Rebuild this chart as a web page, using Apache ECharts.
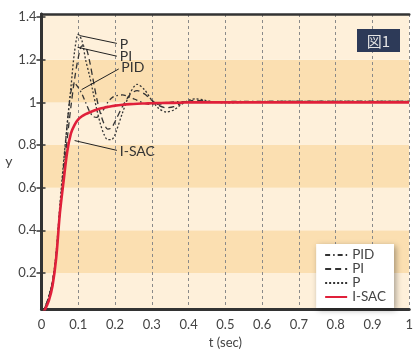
<!DOCTYPE html>
<html><head><meta charset="utf-8">
<script src="https://cdn.jsdelivr.net/npm/echarts@6/dist/echarts.min.js"></script>
<style>html,body{margin:0;padding:0;background:#fff}#c{width:416px;height:354px}</style>
</head><body><div id="c"></div>
<script>
const tSec = [0,0.01,0.02,0.03,0.04,0.05,0.06,0.07,0.08,0.09,0.1,0.11,0.12,0.13,0.14,0.15,0.16,0.17,0.18,0.19,0.2,0.22,0.24,0.26,0.28,0.3,0.32,0.34,0.36,0.38,0.4,0.42,0.44,0.46,0.5,0.55,0.6,0.7,0.8,0.9,1.0];
const yISAC = [0,0.03,0.07,0.14,0.27,0.48,0.63,0.77,0.855,0.895,0.92,0.935,0.945,0.953,0.96,0.966,0.971,0.975,0.979,0.982,0.985,0.989,0.992,0.994,0.995,0.996,0.997,0.998,0.998,0.999,1,1,1,1,1,1,1,1,1,1,1];
const yP    = [0,0.04,0.09,0.16,0.3,0.52,0.72,0.9,1.07,1.24,1.32,1.29,1.2,1.13,1.05,0.97,0.9,0.85,0.825,0.825,0.85,0.95,1.04,1.085,1.06,1.01,0.97,0.955,0.965,0.99,1.01,1.017,1.012,1.005,0.998,1.0,1.003,1.005,1.005,1.005,1.005];
const yPI   = [0,0.04,0.09,0.16,0.28,0.48,0.66,0.83,0.98,1.11,1.21,1.265,1.26,1.2,1.11,1.02,0.95,0.9,0.875,0.88,0.91,0.98,1.035,1.055,1.04,1.01,0.985,0.975,0.98,0.995,1.005,1.01,1.008,1.003,1.0,1.002,1.004,1.005,1.005,1.005,1.005];
const yPID  = [0,0.04,0.09,0.16,0.29,0.5,0.7,0.9,1.05,1.09,1.07,1.04,1.0,0.96,0.935,0.93,0.945,0.97,1.0,1.02,1.03,1.035,1.025,1.01,0.995,0.99,0.992,0.998,1.002,1.004,1.004,1.004,1.004,1.004,1.004,1.005,1.005,1.005,1.005,1.005,1.005];
const xTicks = [0,0.1,0.2,0.3,0.4,0.5,0.6,0.7,0.8,0.9,1];
const yTicks = [0.2,0.4,0.6,0.8,1,1.2,1.4];
const bandEdges = [0,0.2,0.4,0.6,0.8,1.0,1.2,1.6];
const notes = [
  {name:'P',     from:[0.103,1.314], to:[0.205,1.277]},
  {name:'PI',    from:[0.098,1.259], to:[0.205,1.217]},
  {name:'PID',   from:[0.109,1.06],  to:[0.21,1.157]},
  {name:'I-SAC', from:[0.09,0.821],  to:[0.205,0.775]}
];
const pairs = v => tSec.map((t,i)=>[t,v[i]]);
const light = '#FEF0DA', dark = '#FBDFB1';
const bands = [];
for (let i=0;i<bandEdges.length-1;i++){
  bands.push([{yAxis:bandEdges[i], itemStyle:{color: i%2? dark: light}},{yAxis:bandEdges[i+1]}]);
}
const font = 'Lato, "Open Sans", sans-serif';
const chart = echarts.init(document.getElementById('c'));
chart.setOption({
  animation:false,
  grid:{left:41.5,right:1.5,top:14,bottom:39},
  xAxis:[{type:'value',min:0,max:1,interval:0.1,z:2,
    name:'t (sec)',nameLocation:'middle',nameGap:25,
    nameTextStyle:{color:'#444',fontSize:13,fontFamily:font},
    axisLine:{show:true,lineStyle:{color:'#333',width:3}},
    axisTick:{show:false},
    axisLabel:{color:'#444',fontSize:13,fontFamily:font,margin:9,formatter:v=>String(+v.toFixed(1))},
    splitLine:{show:true,lineStyle:{color:'#8a8a8a',type:[3,3],width:1}}},
   {type:'value',min:0,max:1,position:'top',z:2,
    axisLine:{show:true,lineStyle:{color:'#333',width:2.5}},
    axisTick:{show:false},axisLabel:{show:false},splitLine:{show:false}}],
  yAxis:[{type:'value',min:0.03,max:1.415,z:2,
    name:'y',nameLocation:'middle',nameGap:27,nameRotate:0,
    nameTextStyle:{color:'#444',fontSize:14,fontFamily:font},
    axisLine:{show:true,lineStyle:{color:'#333',width:3}},
    axisTick:{show:true,inside:true,length:4,customValues:yTicks,lineStyle:{color:'#333',width:1.5}},
    axisLabel:{color:'#444',fontSize:13,fontFamily:font,margin:5,customValues:yTicks,formatter:v=>String(+v.toFixed(1))},
    splitLine:{show:false}},
   {type:'value',min:0.03,max:1.415,position:'right',z:2,
    axisLine:{show:true,lineStyle:{color:'#333',width:2.5}},
    axisTick:{show:true,inside:true,length:5,customValues:yTicks,lineStyle:{color:'#333',width:1.5}},
    axisLabel:{show:false},splitLine:{show:false}}],
  legend:{orient:'vertical',right:22,top:244,data:['PID','PI','P','I-SAC'],
    backgroundColor:'#fff',borderWidth:0,padding:[4,8,4,8],itemGap:0,itemWidth:22,itemHeight:12,
    itemStyle:{opacity:0},
    shadowBlur:6,shadowOffsetX:2,shadowOffsetY:2,shadowColor:'rgba(0,0,0,0.35)',
    textStyle:{color:'#444',fontSize:13.5,fontFamily:font,padding:[0,0,0,0]}},
  graphic:[{type:'group',left:357,top:29,z:100,children:[
     {type:'rect',z:100,shape:{x:0,y:0,width:43,height:23},style:{fill:'#2D3A58'}},
     {type:'text',z:101,x:21.5,y:12,style:{text:'図1',fill:'#e4e4e4',font:'15px "Noto Sans CJK JP", sans-serif',align:'center',verticalAlign:'middle'}}]}],
  series:[
    {type:'line',name:'bands',data:[],z:1,silent:true,
     markArea:{silent:true,data:bands}},
    {type:'line',name:'notes',data:[],z:4,silent:true,
     markLine:{silent:true,symbol:['none','none'],animation:false,
       lineStyle:{color:'#222',width:1,type:'solid'},
       label:{show:true,position:'end',distance:3,color:'#333',fontSize:14,fontFamily:font},
       data:notes.map(n=>[{coord:n.from},{coord:n.to,label:{formatter:n.name}}])}},
    {type:'line',name:'PID',data:pairs(yPID),symbol:'none',smooth:0.3,z:3,itemStyle:{color:'#333'},
     lineStyle:{color:'#333',width:1.3,type:[5,3,1.5,3]}},
    {type:'line',name:'PI',data:pairs(yPI),symbol:'none',smooth:0.3,z:3,itemStyle:{color:'#333'},
     lineStyle:{color:'#333',width:1.3,type:[6,4]}},
    {type:'line',name:'P',data:pairs(yP),symbol:'none',smooth:0.3,z:3,itemStyle:{color:'#333'},
     lineStyle:{color:'#333',width:1.3,type:[2,2]}},
    {type:'line',name:'I-SAC',data:pairs(yISAC),symbol:'none',smooth:0.3,z:3,itemStyle:{color:'#E0203A'},
     lineStyle:{color:'#E0203A',width:2.6}}
  ]
});
</script></body></html>
